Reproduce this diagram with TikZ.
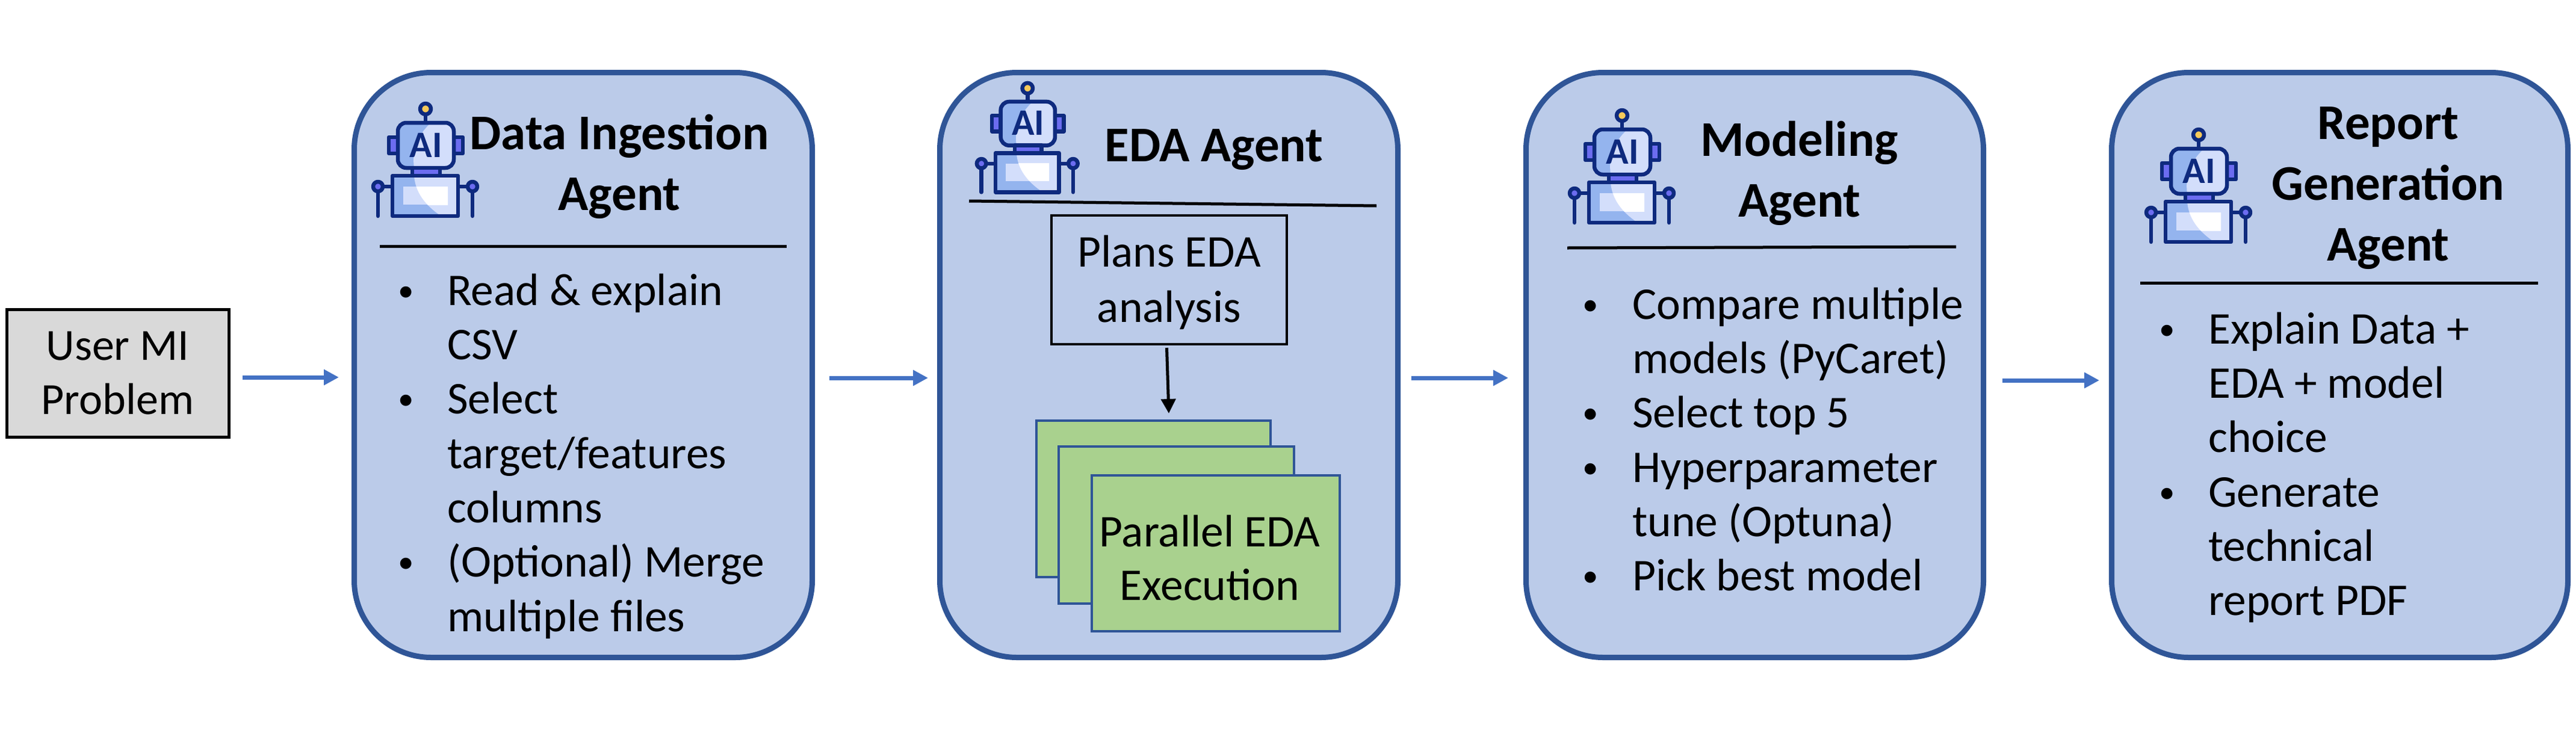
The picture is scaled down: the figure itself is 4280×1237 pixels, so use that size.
\documentclass[tikz,border=0pt]{standalone}
\usepackage{fontspec}
\usepackage{graphicx}
\setmainfont{Carlito}
\usetikzlibrary{arrows.meta}
\definecolor{boxfill}{HTML}{BBCBE9}
\definecolor{boxline}{HTML}{2F5597}
\definecolor{arrowblue}{HTML}{4472C4}
\definecolor{greenfill}{HTML}{A9D18E}
\definecolor{greyfill}{HTML}{D9D9D9}
\definecolor{navy}{HTML}{0E2A7E}
\definecolor{robotblue}{HTML}{94B4EE}
\definecolor{robotlight}{HTML}{D3DEFB}
\definecolor{robotpurple}{HTML}{6C6CF0}
\definecolor{robotyellow}{HTML}{F6C95A}
\newcommand{\bul}{\raisebox{7pt}{\scalebox{0.7}{\textbullet}}}
\tikzset{
  x=1pt,y=-1pt,
  agentbox/.style={draw=boxline,line width=9pt,fill=boxfill,rounded corners=128pt},
  flowarrow/.style={draw=arrowblue,line width=7pt,-{Triangle[length=25pt,width=25pt]}},
  sepline/.style={draw=black,line width=5pt},
  titletext/.style={font=\fontsize{83}{101}\selectfont\bfseries,align=center,inner sep=0pt,anchor=north},
  bodytext/.style={inner sep=0pt,anchor=north west},
  plainbox/.style={draw=black,line width=4pt,align=center,inner sep=0pt},
  inbox/.style={align=center,inner sep=0pt,anchor=north},
  greenbox/.style={draw=boxline,line width=3.5pt,fill=greenfill,align=center,inner sep=0pt},
  robotline/.style={draw=navy,line width=6.5pt,line cap=round,line join=round},
  aitext/.style={font=\fontsize{62}{62}\selectfont\bfseries,text=navy,inner sep=0pt},
}
\newcommand{\robot}[4]{%
\begin{scope}[shift={(#1,#2)},scale=#4]
  \draw[robotline] (91,24) -- (91,34);
  \draw[robotline,fill=robotyellow] (91,12) circle (9);
  \draw[robotline,fill=robotpurple] (30,59) rectangle (45,86);
  \draw[robotline,fill=robotpurple] (138,59) rectangle (153,86);
  \begin{scope}
    \clip[rounded corners=14pt] (45,35) rectangle (138,110);
    \fill[robotblue] (45,35) rectangle (138,110);
    \fill[robotlight] (100,35) .. controls (78,55) and (68,80) .. (72,110) -- (138,110) -- (138,35) -- cycle;
  \end{scope}
  \draw[robotline,rounded corners=14pt] (45,35) rectangle (138,110);
  \draw[robotline,fill=robotpurple] (69,110) rectangle (115,123);
  \draw[robotline] (12,141) -- (36,141);
  \draw[robotline] (145,141) -- (169,141);
  \draw[robotline] (12,150) -- (12,190);
  \draw[robotline] (169,150) -- (169,190);
  \draw[robotline,fill=robotpurple] (12,141) circle (8);
  \draw[robotline,fill=robotpurple] (169,141) circle (8);
  \begin{scope}
    \clip (36,123) rectangle (145,190);
    \fill[robotblue] (36,123) rectangle (145,190);
    \fill[robotlight] (72,123) .. controls (74,150) and (90,172) .. (117,190) -- (145,190) -- (145,123) -- cycle;
    \fill[robotlight] (54,141) rectangle (128,171);
    \clip (54,141) rectangle (128,171);
    \fill[white] (72,123) .. controls (74,150) and (90,172) .. (117,190) -- (145,190) -- (145,123) -- cycle;
  \end{scope}
  \draw[robotline] (36,123) rectangle (145,190);
  \node[aitext] (#3) at (92,72) {AI};
\end{scope}}
\begin{document}
\begin{tikzpicture}
\useasboundingbox (0,0) rectangle (4280,1237);
\fill[white] (0,0) rectangle (4280,1237);

% user box
\node[plainbox,fill=greyfill,line width=5pt,minimum width=369pt,minimum height=212pt,
      font=\fontsize{74}{90}\selectfont] (user) at (195.5,620) {User MI\\Problem};

% agent boxes
\draw[agentbox] (588.5,120.5) rectangle (1349.5,1092.5);
\draw[agentbox] (1561.5,120.5) rectangle (2322.5,1092.5);
\draw[agentbox] (2535.5,120.5) rectangle (3295.5,1092.5);
\draw[agentbox] (3508.5,120.5) rectangle (4266.5,1092.5);

% flow arrows
\coordinate (s0) at (403,627); \coordinate (e0) at (563,627);
\coordinate (s1) at (1378,628); \coordinate (e1) at (1542,628);
\coordinate (s2) at (2345,628); \coordinate (e2) at (2506,628);
\coordinate (s3) at (3327,632); \coordinate (e3) at (3488,632);
\draw[flowarrow] (s0) -- (e0);
\draw[flowarrow] (s1) -- (e1);
\draw[flowarrow] (s2) -- (e2);
\draw[flowarrow] (s3) -- (e3);

% robots
\robot{616}{169}{ai1}{1}
\robot{1619}{135}{ai2}{0.97}
\robot{2604}{180}{ai3}{1}
\robot{3562}{212}{ai4}{1}

% titles
\node[titletext] (t1) at (1029,177.3) {\strut Data Ingestion\\Agent};
\node[titletext] (t2) at (2017,197.3) {\strut EDA Agent};
\node[titletext] (t3) at (2990,188.3) {\strut Modeling\\Agent};
\node[titletext] (t4) at (3968,160.3) {\strut Report\\Generation\\Agent};

% separators
\draw[sepline] (631,409) -- (1307,409);
\draw[sepline] (1610,334) -- (2287,342);
\draw[sepline] (2604,412) -- (3250,410);
\draw[sepline] (3556,470.5) -- (4217,470.5);

% body lists
\node[bodytext] (l1) at (661,443.8) {\fontsize{75.5}{90.3}\selectfont
\begin{tabular}{@{}p{82pt}@{}l@{}}
\bul & Read \& explain\\
 & CSV\\
\bul & Select\\
 & target/features\\
 & columns\\
\bul & (Optional) Merge\\
 & multiple files
\end{tabular}};
\node[bodytext] (l3) at (2629,466.8) {\fontsize{75.5}{90.3}\selectfont
\begin{tabular}{@{}p{83pt}@{}l@{}}
\bul & Compare multiple\\
 & models (PyCaret)\\
\bul & Select top 5\\
\bul & Hyperparameter\\
 & tune (Optuna)\\
\bul & Pick best model
\end{tabular}};
\node[bodytext] (l4) at (3587,507.8) {\fontsize{75.5}{90.3}\selectfont
\begin{tabular}{@{}p{82pt}@{}l@{}}
\bul & Explain Data +\\
 & EDA + model\\
 & choice\\
\bul & Generate\\
 & technical\\
 & report PDF
\end{tabular}};

% EDA inner
\node[plainbox,minimum width=391pt,minimum height=214pt] (plan) at (1942.5,465) {};
\node[inbox,font=\fontsize{75.5}{92}\selectfont] (plantext) at (1942.5,378.6) {\strut Plans EDA\\analysis};
\node[greenbox,minimum width=389pt,minimum height=260pt] (g1) at (1916.5,829) {};
\node[greenbox,minimum width=391pt,minimum height=261pt] (g2) at (1954.5,872.5) {};
\node[greenbox,minimum width=412pt,minimum height=259pt] (g3) at (2020,919.5) {};
\node[inbox,font=\fontsize{75.5}{89}\selectfont] (g3text) at (2010,845.7) {\strut Parallel EDA\\Execution};
\coordinate (gt) at (1942,687);
\draw[draw=black,line width=5pt,-{Triangle[length=24pt,width=24pt]}] (plan.south) ++(-4,4) -- (gt);
\end{tikzpicture}
\end{document}
